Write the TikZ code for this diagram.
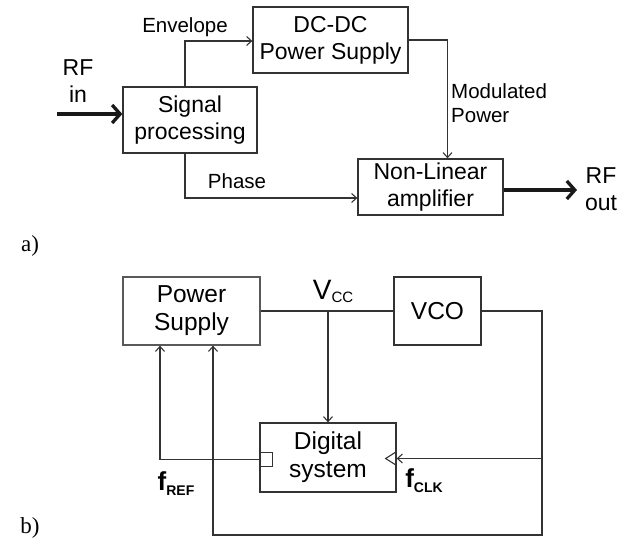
\documentclass[tikz,border=0pt]{standalone}
\usepackage{fontspec}
\setmainfont{Liberation Sans}
\newfontfamily\serifrm{Liberation Serif}
\usetikzlibrary{positioning, arrows.meta}

\begin{document}
\begin{tikzpicture}[
  x=1pt, y=-1pt,
  font=\fontsize{23}{27}\selectfont,
  blk/.style={draw=black!80, line width=1.3pt, align=center, inner sep=0pt},
  big/.style={font=\fontsize{24.5}{28}\selectfont},
  lbl/.style={font=\fontsize{20.5}{24}\selectfont, inner sep=0pt},
  wire/.style={line width=1.1pt, draw=black!80},
  arr/.style={-{Straight Barb[length=5pt,width=9pt]}, line width=1.1pt, draw=black!80},
  rf/.style={-{Straight Barb[length=8pt,width=18pt]}, line width=3.3pt, draw=black!90},
  tag/.style={font=\serifrm\fontsize{23}{26}\selectfont, inner sep=0pt},
]
\useasboundingbox (0,0) rectangle (619,544);

% a) polar transmitter
\node[blk, minimum width=134pt, minimum height=66pt] (sig) at (190,120) {Signal\\processing};
\node[blk, minimum width=155pt, minimum height=66pt] (dcdc) at (330.5,40) {DC-DC\\Power Supply};
\node[blk, minimum width=145pt, minimum height=56pt] (nla) at (430.5,187) {Non-Linear\\amplifier};
\node[align=center, inner sep=0pt] (rfin) at (78,81) {RF\\in};
\node[align=center, inner sep=0pt] (rfout) at (601,189) {RF\\out};
\node[lbl] (env) at (185,27) {Envelope};
\node[lbl] (ph) at (237,181) {Phase};
\node[lbl, align=left, anchor=west] (mod) at (451,103) {Modulated\\Power};
\node[tag] (ta) at (30,246) {a)};
\coordinate (rfin0) at (57,114);
\coordinate (rfout0) at (577,190);
\draw[rf]  (rfin0) -- (rfin0 -| sig.west);
\draw[arr] ([xshift=-5pt]sig.north) |- ([yshift=-1pt]dcdc.west);
\draw[arr] ([xshift=-5pt]sig.south) |- ([yshift=-11pt]nla.west);
\draw[arr] (dcdc.east) -| ([xshift=17pt]nla.north);
\draw[rf]  (rfout0 -| nla.east) -- (rfout0);

% b) power supply / digital system loop
\node[blk, big, draw=black!65, minimum width=137pt, minimum height=68pt] (ps) at (191.5,311) {Power\\Supply};
\node[blk, big, minimum width=87pt, minimum height=68pt] (vco) at (437.5,311) {VCO};
\node[blk, big, minimum width=136pt, minimum height=69pt] (dig) at (328,457.5) {Digital\\system};
\node[inner sep=0pt] (vcc) at (333,291) {\fontsize{28}{28}\selectfont V\raisebox{-3pt}{\fontsize{15}{15}\selectfont CC}};
\node[inner sep=0pt] (fref) at (176,484) {\fontsize{26}{26}\selectfont\bfseries f\raisebox{-5pt}{\fontsize{14}{14}\selectfont REF}};
\node[inner sep=0pt] (fclk) at (424,481) {\fontsize{26}{26}\selectfont\bfseries f\raisebox{-5pt}{\fontsize{14}{14}\selectfont CLK}};
\node[tag] (tb) at (30,528) {b)};
\node[draw=black!80, line width=1.1pt, minimum width=13pt, minimum height=14pt,
      inner sep=0pt, anchor=west] (refport) at ([yshift=-2pt]dig.west) {};
\coordinate (clk) at ([yshift=-1pt]dig.east);
\coordinate (fb) at (542,535);
\draw[wire] (ps.east) -- (vco.west);
\draw[arr]  (dig.north |- ps.east) -- (dig.north);
\draw[arr]  (vco.east) -| (fb) -| ([xshift=21.5pt]ps.south);
\draw[arr]  (fb |- clk) -- (clk);
\draw[wire] ([yshift=7pt]clk) -- ++(-11,7) -- ++(11,7);
\draw[arr]  (refport.west) -| ([xshift=-31.5pt]ps.south);
\end{tikzpicture}
\end{document}
